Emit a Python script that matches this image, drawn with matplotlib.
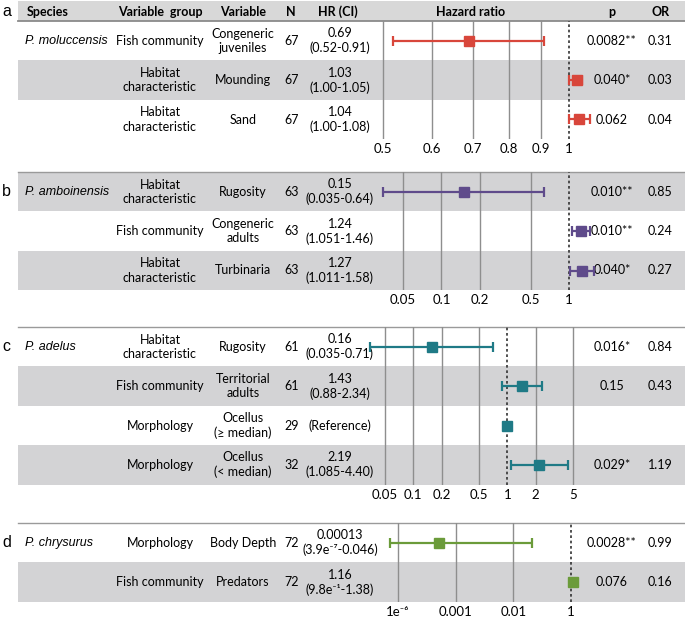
import numpy as np
import matplotlib.pyplot as plt
from matplotlib.patches import Rectangle
from matplotlib.ticker import NullLocator

plt.rcParams["font.family"] = ["Lato", "DejaVu Sans"]

# panel a - P. moluccensis
groups_a = ["Fish community", "Habitat\ncharacteristic", "Habitat\ncharacteristic"]
vars_a = ["Congeneric\njuveniles", "Mounding", "Sand"]
n_a = [67, 67, 67]
hr_text_a = ["0.69\n(0.52-0.91)", "1.03\n(1.00-1.05)", "1.04\n(1.00-1.08)"]
hr_a = [0.69, 1.03, 1.04]
lo_a = [0.52, 1.00, 1.00]
hi_a = [0.91, 1.05, 1.08]
p_a = ["0.0082**", "0.040*", "0.062"]
or_a = ["0.31", "0.03", "0.04"]
ticks_a = [0.5, 0.6, 0.7, 0.8, 0.9, 1]
ticklabels_a = ["0.5", "0.6", "0.7", "0.8", "0.9", "1"]

# panel b - P. amboinensis
groups_b = ["Habitat\ncharacteristic", "Fish community", "Habitat\ncharacteristic"]
vars_b = ["Rugosity", "Congeneric\nadults", "Turbinaria"]
n_b = [63, 63, 63]
hr_text_b = ["0.15\n(0.035-0.64)", "1.24\n(1.051-1.46)", "1.27\n(1.011-1.58)"]
hr_b = [0.15, 1.24, 1.27]
lo_b = [0.035, 1.051, 1.011]
hi_b = [0.64, 1.46, 1.58]
p_b = ["0.010**", "0.010**", "0.040*"]
or_b = ["0.85", "0.24", "0.27"]
ticks_b = [0.05, 0.1, 0.2, 0.5, 1]
ticklabels_b = ["0.05", "0.1", "0.2", "0.5", "1"]

# panel c - P. adelus
groups_c = ["Habitat\ncharacteristic", "Fish community", "Morphology", "Morphology"]
vars_c = ["Rugosity", "Territorial\nadults", "Ocellus\n(\u2265 median)", "Ocellus\n(< median)"]
n_c = [61, 61, 29, 32]
hr_text_c = ["0.16\n(0.035-0.71)", "1.43\n(0.88-2.34)", "(Reference)", "2.19\n(1.085-4.40)"]
hr_c = [0.16, 1.43, 1.0, 2.19]
lo_c = [0.035, 0.88, np.nan, 1.085]
hi_c = [0.71, 2.34, np.nan, 4.40]
p_c = ["0.016*", "0.15", "", "0.029*"]
or_c = ["0.84", "0.43", "", "1.19"]
ticks_c = [0.05, 0.1, 0.2, 0.5, 1, 2, 5]
ticklabels_c = ["0.05", "0.1", "0.2", "0.5", "1", "2", "5"]

# panel d - P. chrysurus
groups_d = ["Morphology", "Fish community"]
vars_d = ["Body Depth", "Predators"]
n_d = [72, 72]
hr_text_d = ["0.00013\n(3.9e\u207b\u2077-0.046)", "1.16\n(9.8e\u207b\u00b9-1.38)"]
hr_d = [0.00013, 1.16]
lo_d = [3.9e-7, 0.98]
hi_d = [0.046, 1.38]
p_d = ["0.0028**", "0.076"]
or_d = ["0.99", "0.16"]
ticks_d = [1e-6, 0.001, 0.01, 1]
ticklabels_d = ["1e\u207b\u2076", "0.001", "0.01", "1"]

# layout, in pixels of a 685 x 618 figure
W, H = 685, 618
ROW_H = 39.4
BAND_L = 18
X_SPECIES, X_GROUP, X_VAR, X_N, X_HR, X_P, X_OR = 25, 160, 243, 292, 340, 612, 660
FOREST_L, FOREST_R = 360, 600

BAND_COLOR = "#d3d3d5"
LINE_COLOR = "#9a9a9a"
GRID_COLOR = "#8e8e8e"


# piecewise log scale used in panel d (1e-6, 0.001, 0.01, 1 equally spaced)
def broken_fwd(x):
    lx = np.log10(np.maximum(np.asarray(x, dtype=float), 1e-300))
    return np.where(lx <= -3, (lx + 6) / 3, np.where(lx <= -2, lx + 4, (lx + 6) / 2))


def broken_inv(u):
    u = np.asarray(u, dtype=float)
    lx = np.where(u <= 1, 3 * u - 6, np.where(u <= 2, u - 4, 2 * u - 6))
    return 10 ** lx


def draw_panel(fig, bg, top, letter, species, groups, variables, n, hr_text,
               hr, lo, hi, p, odds, color, xlim, ticks, ticklabels,
               shade_parity, letter_y=None, top_line=True, broken=False):
    nrows = len(variables)
    if top_line:
        bg.plot([BAND_L, W], [top, top], color=LINE_COLOR, lw=1.0)

    for i in range(nrows):
        y0 = top + i * ROW_H
        yc = y0 + ROW_H / 2
        if i % 2 == shade_parity:
            bg.add_patch(Rectangle((BAND_L, y0), W - BAND_L, ROW_H,
                                   color=BAND_COLOR, lw=0, zorder=0))
        txt = dict(ha="center", va="center", fontsize=9, linespacing=1.22)
        bg.text(X_GROUP, yc, groups[i], **txt)
        bg.text(X_VAR, yc, variables[i], **txt)
        bg.text(X_N, yc, str(n[i]), **txt)
        bg.text(X_HR, yc, hr_text[i], **txt)
        bg.text(X_P, yc, p[i], **txt)
        bg.text(X_OR, yc, odds[i], **txt)

    first_yc = top + ROW_H / 2
    bg.text(X_SPECIES, first_yc, species, ha="left", va="center",
            fontsize=9, style="italic", family=["Liberation Sans", "DejaVu Sans"])
    bg.text(2, first_yc if letter_y is None else letter_y, letter, ha="left",
            va="center", fontsize=11.5, family=["Liberation Sans", "DejaVu Sans"])

    # forest plot
    ax = fig.add_axes([FOREST_L / W, 1 - (top + nrows * ROW_H) / H,
                       (FOREST_R - FOREST_L) / W, nrows * ROW_H / H])
    ax.patch.set_visible(False)
    if broken:
        ax.set_xscale("function", functions=(broken_fwd, broken_inv))
    else:
        ax.set_xscale("log")
    ax.set_xlim(*xlim)
    ax.set_ylim(nrows, 0)
    for t in ticks:
        if t != 1:
            ax.axvline(t, color=GRID_COLOR, lw=1.0, zorder=1)
    ax.axvline(1, color="#333333", lw=1.2, ls=(0, (1.6, 1.6)), zorder=1)

    hr = np.array(hr)
    lo = np.array(lo)
    hi = np.array(hi)
    y = np.arange(nrows) + 0.5
    has_ci = ~np.isnan(lo)
    ax.errorbar(hr[has_ci], y[has_ci],
                xerr=[hr[has_ci] - lo[has_ci], hi[has_ci] - hr[has_ci]],
                fmt="none", ecolor=color, elinewidth=1.6, capsize=3.4,
                capthick=1.6, zorder=3)
    ax.plot(hr, y, "s", color=color, ms=7, zorder=4)

    ax.set_xticks(ticks)
    ax.set_xticklabels(ticklabels)
    ax.xaxis.set_minor_locator(NullLocator())
    ax.tick_params(axis="x", length=0, pad=3, labelsize=9.5)
    ax.set_yticks([])
    for s in ax.spines.values():
        s.set_visible(False)
    return ax


def plot_table():
    fig = plt.figure(figsize=(W / 100, H / 100), dpi=100)
    bg = fig.add_axes([0, 0, 1, 1])
    bg.set_xlim(0, W)
    bg.set_ylim(H, 0)
    bg.axis("off")

    # header row
    bg.add_patch(Rectangle((BAND_L, 1), W - BAND_L, 20, color="#d8d8d8", lw=0, zorder=0))
    bg.plot([BAND_L, W], [21, 21], color="#8a8a8a", lw=1.3)
    head = dict(va="center", fontsize=9, fontweight="bold",
                family=["Liberation Sans Narrow", "Lato", "DejaVu Sans"])
    bg.text(27, 11.5, "Species", ha="left", **head)
    bg.text(X_GROUP, 11.5, "Variable  group", ha="center", **head)
    bg.text(X_VAR, 11.5, "Variable", ha="center", **head)
    bg.text(X_N - 1, 11.5, "N", ha="center", **head)
    bg.text(X_HR - 2, 11.5, "HR (CI)", ha="center", **head)
    bg.text(471, 11.5, "Hazard ratio", ha="center", **head)
    bg.text(X_P, 11.5, "p", ha="center", **head)
    bg.text(X_OR + 1, 11.5, "OR", ha="center", **head)

    draw_panel(fig, bg, 21, "a", "P. moluccensis", groups_a, vars_a, n_a, hr_text_a,
               hr_a, lo_a, hi_a, p_a, or_a, "#d8463b", (0.459, 1.123),
               ticks_a, ticklabels_a, 1, letter_y=11.5, top_line=False)
    draw_panel(fig, bg, 172, "b", "P. amboinensis", groups_b, vars_b, n_b, hr_text_b,
               hr_b, lo_b, hi_b, p_b, or_b, "#5f4b8b", (0.0230, 1.750),
               ticks_b, ticklabels_b, 0)
    draw_panel(fig, bg, 327, "c", "P. adelus", groups_c, vars_c, n_c, hr_text_c,
               hr_c, lo_c, hi_c, p_c, or_c, "#1f7a86", (0.0271, 9.69),
               ticks_c, ticklabels_c, 1)
    draw_panel(fig, bg, 523, "d", "P. chrysurus", groups_d, vars_d, n_d, hr_text_d,
               hr_d, lo_d, hi_d, p_d, or_d, "#6b9b3a", (1.06e-8, 10.1),
               ticks_d, ticklabels_d, 1, broken=True)

    fig.savefig("out.png", dpi=100)


if __name__ == "__main__":
    plot_table()
